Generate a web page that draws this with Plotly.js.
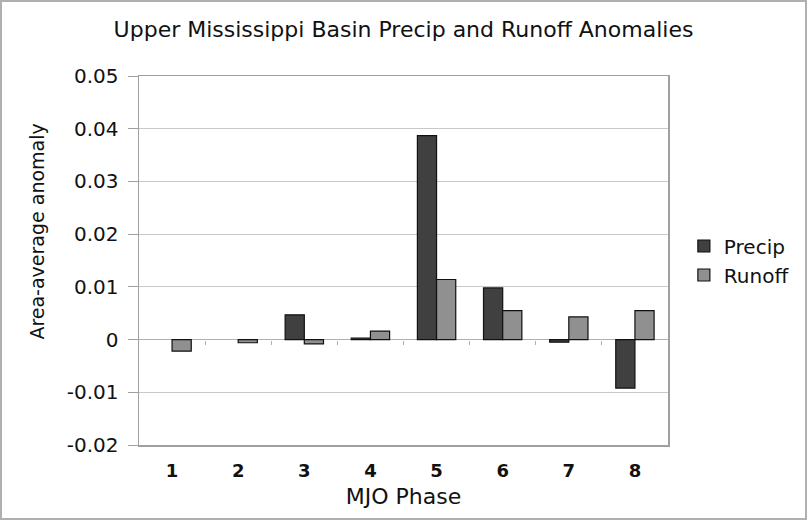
<!DOCTYPE html>
<html>
<head>
<meta charset="utf-8">
<script src="https://cdn.plot.ly/plotly-3.0.1.min.js"></script>
<style>
html,body{margin:0;padding:0;background:#fff;}
#frame{position:absolute;left:0;top:0;width:807px;height:520px;box-sizing:border-box;border:2px solid #b0b0b0;pointer-events:none;}
#chart{position:absolute;left:0;top:0;width:807px;height:520px;}
</style>
</head>
<body>
<div id="chart"></div>
<div id="frame"></div>
<script>
const phases = ["1","2","3","4","5","6","7","8"];
const precip = [null, null, 0.0047, 0.0003, 0.0387, 0.0098, -0.0005, -0.0092];
const runoff = [-0.0022, -0.0006, -0.0008, 0.0016, 0.0114, 0.0055, 0.0043, 0.0055];
const yTickVals = [-0.02, -0.01, 0, 0.01, 0.02, 0.03, 0.04, 0.05];
const yTickText = ["-0.02", "-0.01", "0", "0.01", "0.02", "0.03", "0.04", "0.05"];
const yRange = [-0.02, 0.05];

const font = "DejaVu Sans, Verdana, sans-serif";

// category boundary ticks drawn on the zero line
const boundaryTicks = phases.slice(1).map((_, i) => i + 0.5);
const zeroPos = (0 - yRange[0]) / (yRange[1] - yRange[0]);

const traces = [
  {type:"bar", name:"Precip", x:phases, y:precip,
   marker:{color:"#404040", line:{color:"#111", width:1.2}}},
  {type:"bar", name:"Runoff", x:phases, y:runoff,
   marker:{color:"#909090", line:{color:"#111", width:1.2}}},
  {type:"scatter", mode:"markers", x:[], y:[], xaxis:"x2", yaxis:"y",
   showlegend:false, hoverinfo:"skip"}
];

const layout = {
  width:807, height:520,
  margin:{l:139, r:129, t:76, b:75},
  paper_bgcolor:"rgba(0,0,0,0)", plot_bgcolor:"#fff",
  font:{family:font, color:"#111"},
  barmode:"group", bargap:0.42, bargroupgap:0,
  showlegend:true,
  title:{text:"Upper Mississippi Basin Precip and Runoff Anomalies",
         font:{size:22, family:font, color:"#111"}, x:0.5, xref:"paper", xanchor:"center", y:0.944, yanchor:"middle"},
  xaxis:{
    type:"category",
    title:{text:"MJO Phase", font:{size:22}, standoff:8},
    tickfont:{size:18, family:font, weight:"bold"},
    ticklabelstandoff:9,
    showline:true, mirror:true, linecolor:"#a0a0a0", linewidth:1.5,
    showgrid:false, ticks:"", zeroline:false, fixedrange:true
  },
  xaxis2:{
    type:"linear", overlaying:"x", anchor:"free", position:zeroPos, side:"bottom",
    range:[-0.5, phases.length - 0.5], autorange:false, tickmode:"array", tickvals:boundaryTicks,
    ticks:"outside", ticklen:4, tickcolor:"#b0b0b0", tickwidth:1,
    showticklabels:false, showgrid:false, zeroline:false, showline:false
  },
  yaxis:{
    range:yRange, tickvals:yTickVals, ticktext:yTickText,
    tickfont:{size:20}, ticklabelstandoff:5,
    showline:true, mirror:true, linecolor:"#a0a0a0", linewidth:1.5,
    showgrid:true, gridcolor:"#c8c8c8", gridwidth:1,
    zeroline:true, zerolinecolor:"#b0b0b0", zerolinewidth:1,
    ticks:"outside", ticklen:10, tickcolor:"#a0a0a0"
  },
  annotations:[{
    text:"Area-average anomaly", textangle:-90, showarrow:false,
    xref:"paper", yref:"paper", x:-0.193, y:0.578, xanchor:"center", yanchor:"middle",
    font:{size:19, family:font, color:"#111"}
  }],
  legend:{x:1.03, xanchor:"left", y:0.50, yanchor:"middle",
          font:{size:20}, bgcolor:"rgba(0,0,0,0)", tracegroupgap:0, itemwidth:30}
};

Plotly.newPlot("chart", traces, layout, {displayModeBar:false, staticPlot:true});
</script>
</body>
</html>
